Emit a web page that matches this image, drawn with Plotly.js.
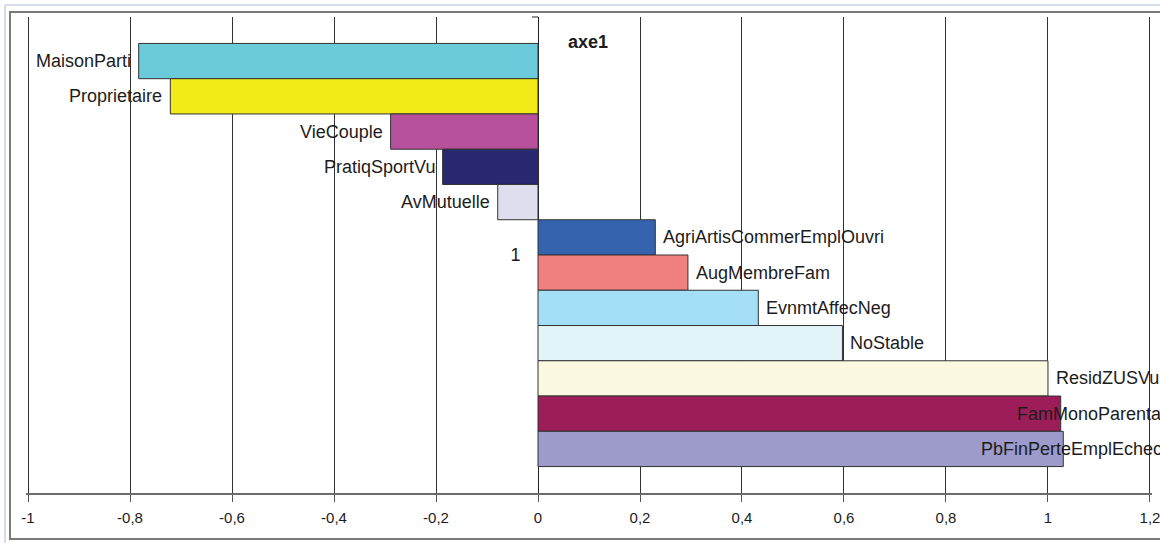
<!DOCTYPE html>
<html>
<head>
<meta charset="utf-8">
<script src="https://cdn.plot.ly/plotly-3.0.1.min.js"></script>
<style>
  html, body { margin: 0; padding: 0; background: #ffffff; }
  #chart { width: 1160px; height: 543px; }
</style>
</head>
<body>
<div id="chart"></div>
<script>
// ---- data ----
const categories = ["MaisonParti", "Proprietaire", "VieCouple", "PratiqSportVu", "AvMutuelle",
  "AgriArtisCommerEmplOuvri", "AugMembreFam", "EvnmtAffecNeg", "NoStable", "ResidZUSVu",
  "FamMonoParentale", "PbFinPerteEmplEchec"];
const values = [-0.783, -0.721, -0.289, -0.187, -0.079,
  0.230, 0.294, 0.432, 0.597, 1.000, 1.025, 1.030];
const colors = ["#6BCBDB", "#F2EB17", "#B8519B", "#27286F", "#DEDEEF",
  "#3563AE", "#F08080", "#A5DEF7", "#E3F4F8", "#FCF9E3", "#9D1D59", "#9D9ACC"];
const xTickVals = [-1, -0.8, -0.6, -0.4, -0.2, 0, 0.2, 0.4, 0.6, 0.8, 1, 1.2];
const xTickText = ["-1", "-0,8", "-0,6", "-0,4", "-0,2", "0", "0,2", "0,4", "0,6", "0,8", "1", "1,2"];
const groupLabel = "1";
const seriesTitle = "axe1";

// label placement tweaks (style only)
const labelShift = [-6, -6, -6, -6, -6, 6, 6, 6, 6, 6, -46, -84];

const W = 1160, H = 543;
const M = {l: 26, r: 8, t: 17, b: 50};
const X0 = -1.004, X1 = 1.204;
const px2x = p => (p - M.l) / (W - M.l - M.r);
const py2y = p => (H - M.b - p) / (H - M.t - M.b);

const FONT = "Liberation Sans, Arial, sans-serif";
const labelFont = {family: FONT, size: 18, color: "#1c1c1c"};

const idx = categories.map((_, i) => i);

const trace = {
  type: "bar",
  orientation: "h",
  x: values,
  y: idx,
  width: 1,
  marker: {color: colors, line: {color: "#333333", width: 1}},
  hoverinfo: "skip",
  showlegend: false
};

const annotations = categories.map((c, i) => ({
  x: values[i], y: i, xref: "x", yref: "y",
  text: c, showarrow: false,
  xanchor: labelShift[i] < 0 && values[i] < 0 ? "right" : "left",
  xshift: labelShift[i],
  font: labelFont
}));
annotations.push({
  x: px2x(566), y: py2y(42), xref: "paper", yref: "paper",
  xanchor: "left", yanchor: "middle", showarrow: false,
  text: "<b>" + seriesTitle + "</b>",
  font: {family: FONT, size: 18, color: "#1c1c1c"}
});

const layout = {
  width: W, height: H,
  margin: M,
  paper_bgcolor: "#ffffff",
  plot_bgcolor: "rgba(0,0,0,0)",
  bargap: 0,
  xaxis: {
    range: [X0, X1],
    tickvals: xTickVals, ticktext: xTickText,
    showgrid: true, gridcolor: "#333333", gridwidth: 1,
    zeroline: true, zerolinecolor: "#222222", zerolinewidth: 1,
    showline: true, linecolor: "#6b6b6b", linewidth: 2,
    ticks: "outside", ticklen: 7, tickcolor: "#555555", tickwidth: 1,
    ticklabelstandoff: 3,
    ticklabeloverflow: "allow",
    tickfont: {family: FONT, size: 15, color: "#1c1c1c"},
    fixedrange: true
  },
  yaxis: {
    range: [12.25, -1.25],
    anchor: "free", position: px2x(538),
    showgrid: false, zeroline: false, showline: false,
    tickvals: [5.5], ticktext: [groupLabel],
    ticks: "outside", ticklen: 14, tickcolor: "rgba(0,0,0,0)",
    tickfont: {family: FONT, size: 18, color: "#1c1c1c"},
    fixedrange: true
  },
  annotations: annotations,
  shapes: [
    {type: "rect", xref: "paper", yref: "paper", layer: "below",
     x0: px2x(5), x1: px2x(1200), y0: py2y(5), y1: py2y(620),
     line: {color: "#aabbd4", width: 1}, fillcolor: "rgba(0,0,0,0)"},
    {type: "rect", xref: "paper", yref: "paper", layer: "below",
     x0: px2x(10), x1: px2x(1200), y0: py2y(12), y1: py2y(539),
     line: {color: "#7a7a7a", width: 2}, fillcolor: "rgba(0,0,0,0)"},
    {type: "line", xref: "x", yref: "paper",
     x0: -0.012, x1: 0, y0: 1, y1: 1,
     line: {color: "#222222", width: 1}}
  ]
};

Plotly.newPlot("chart", [trace], layout, {displayModeBar: false, staticPlot: true});
</script>
</body>
</html>
